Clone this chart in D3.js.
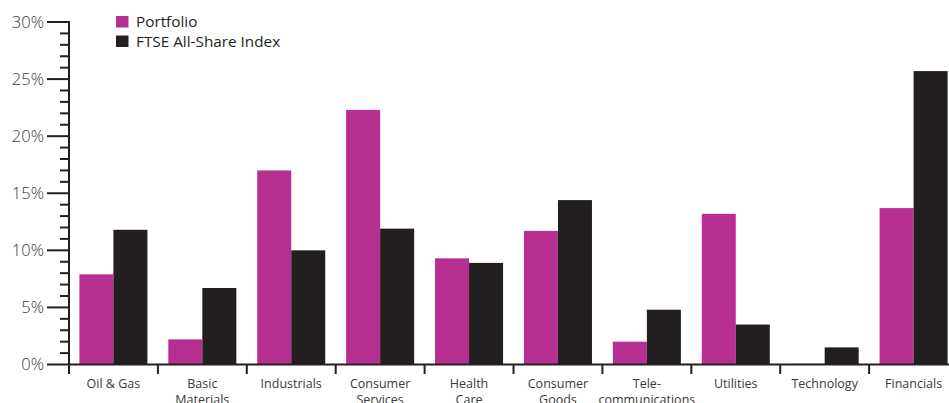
<!DOCTYPE html>
<html><head><meta charset="utf-8">
<script src="https://cdn.jsdelivr.net/npm/d3@7"></script>
<style>
body{margin:0;background:#fff;overflow:hidden}
text{font-family:"Open Sans","Noto Sans",sans-serif;}
</style></head>
<body><svg id="c" width="949" height="403"></svg>
<script>
const categories = ["Oil & Gas","Basic\nMaterials","Industrials","Consumer\nServices","Health\nCare","Consumer\nGoods","Tele-\ncommunications","Utilities","Technology","Financials"];
const portfolio = [7.9, 2.2, 17.0, 22.3, 9.3, 11.7, 2.0, 13.2, 0.05, 13.7];
const ftse = [11.8, 6.7, 10.0, 11.9, 8.9, 14.4, 4.8, 3.5, 1.5, 25.7];
const seriesNames = ["Portfolio","FTSE All-Share Index"];
const colors = ["#b82f92","#231f20"];
const yTicks = [0,5,10,15,20,25,30];

const svg = d3.select("#c");
const x0 = 69, x1 = 958, yBase = 364.5, yTop = 22;
const x = d3.scaleBand().domain(categories).range([x0,x1]).paddingInner(0.235).paddingOuter(0.117);
const y = d3.scaleLinear().domain([0,30]).range([yBase,yTop]);

// bars
const g = svg.append("g");
categories.forEach((c,i)=>{
  const bx = x(c), bw = x.bandwidth()/2;
  [portfolio[i], ftse[i]].forEach((v,j)=>{
    g.append("rect").attr("x", bx + j*bw).attr("width", bw)
      .attr("y", y(v)).attr("height", yBase - y(v)).attr("fill", colors[j]);
  });
});

// y axis
const ax = svg.append("g").attr("stroke","#231f20").attr("stroke-width",2);
ax.append("line").attr("x1",x0).attr("x2",x0).attr("y1",y(30)-1).attr("y2",yBase+1);
d3.range(0,31,1).forEach(v=>{
  const major = v%5===0;
  ax.append("line").attr("x1", major?47:60).attr("x2",x0).attr("y1",y(v)).attr("y2",y(v));
});
svg.append("g").selectAll("text").data(yTicks).join("text")
  .attr("x",44).attr("y",d=>y(d)).attr("dy","0.36em").attr("text-anchor","end")
  .attr("font-size",16.5).attr("font-weight",300).attr("fill","#3a3a3a")
  .text(d=>d+"%");

// x axis
const xb = d3.scaleLinear().domain([0,10]).range([x0,x1]);
ax.append("line").attr("x1",x0).attr("x2",949).attr("y1",yBase).attr("y2",yBase);
d3.range(0,10).forEach(i=>{
  ax.append("line").attr("x1",xb(i)).attr("x2",xb(i)).attr("y1",yBase).attr("y2",374);
});
categories.forEach((c,i)=>{
  c.split("\n").forEach((line,k)=>{
    svg.append("text").attr("x", x(c)+x.bandwidth()/2).attr("y",388 + k*15.5)
      .attr("text-anchor","middle").attr("font-size",12.5).attr("fill","#3a3a3a").text(line);
  });
});

// legend
const lg = svg.append("g");
seriesNames.forEach((s,i)=>{
  lg.append("rect").attr("x",116).attr("y",16+i*19.5).attr("width",12.5).attr("height",11.5).attr("fill",colors[i]);
  lg.append("text").attr("x",136).attr("y",27+i*19.5).attr("font-size",15.3).attr("fill","#231f20").text(s);
});
</script></body></html>
